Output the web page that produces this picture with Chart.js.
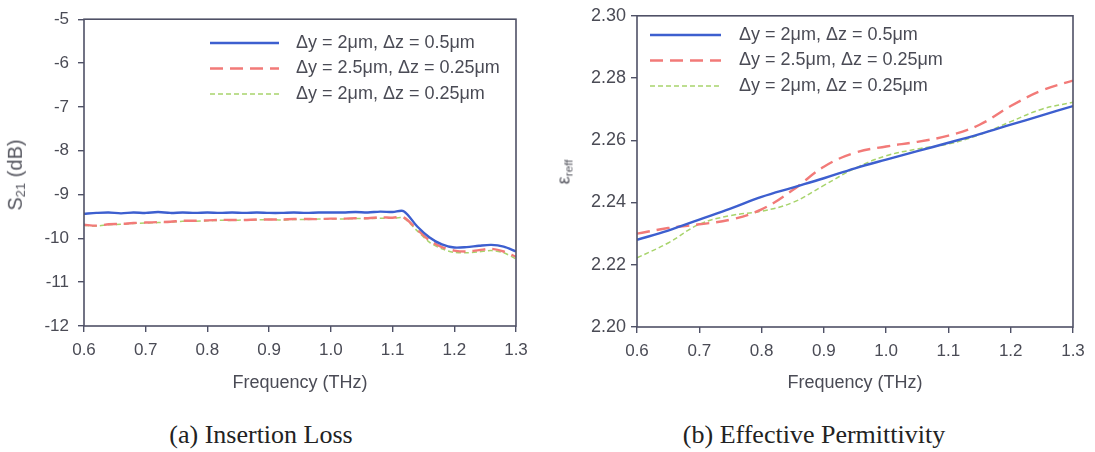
<!DOCTYPE html>
<html>
<head>
<meta charset="utf-8">
<script src="https://cdn.jsdelivr.net/npm/chart.js@4.4.1/dist/chart.umd.min.js"></script>
<style>
  html, body { margin: 0; padding: 0; background: #ffffff; }
  body { width: 1095px; height: 452px; position: relative; overflow: hidden; }
  canvas { position: absolute; top: 0; }
  .ytitle { position: absolute; font-family: "Liberation Sans", Arial, sans-serif; color: #55565f; white-space: nowrap; transform: translate(-50%, -50%) rotate(-90deg); }
  .ytitle sub { font-size: 65%; vertical-align: -0.25em; }
  .caption { position: absolute; font-family: "Liberation Serif", "Times New Roman", serif; font-size: 26px; color: #222; transform: translate(-50%, -50%); white-space: nowrap; }
</style>
</head>
<body>
<canvas id="cA" width="550" height="402" style="left:0px"></canvas>
<canvas id="cB" width="545" height="402" style="left:550px"></canvas>
<div class="ytitle" style="left:16px; top:175px; font-size:20px;">S<sub>21</sub> (dB)</div>
<div class="ytitle" style="left:564px; top:172px; font-size:18px;">&epsilon;<sub>reff</sub></div>
<div class="caption" style="left:261px; top:435px;">(a) Insertion Loss</div>
<div class="caption" style="left:814px; top:435px;">(b) Effective Permittivity</div>
<script>
// ---------- data ----------
const seriesNames = ['\u0394y = 2\u03bcm, \u0394z = 0.5\u03bcm', '\u0394y = 2.5\u03bcm, \u0394z = 0.25\u03bcm', '\u0394y = 2\u03bcm, \u0394z = 0.25\u03bcm'];
const xTickLabels = ['0.6', '0.7', '0.8', '0.9', '1.0', '1.1', '1.2', '1.3'];
const yTickLabelsA = ['-12', '-11', '-10', '-9', '-8', '-7', '-6', '-5'];
const yTickLabelsB = ['2.20', '2.22', '2.24', '2.26', '2.28', '2.30'];

const freqA = [0.60,0.62,0.64,0.66,0.68,0.70,0.72,0.74,0.76,0.78,0.80,0.82,0.84,0.86,0.88,0.90,0.92,0.94,0.96,0.98,1.00,1.02,1.04,1.06,1.08,1.10,1.118,1.14,1.16,1.18,1.20,1.22,1.24,1.26,1.28,1.30];
const s21Blue  = [-9.44,-9.42,-9.41,-9.43,-9.41,-9.42,-9.40,-9.42,-9.41,-9.42,-9.41,-9.42,-9.41,-9.42,-9.41,-9.42,-9.42,-9.41,-9.42,-9.41,-9.41,-9.41,-9.40,-9.41,-9.39,-9.40,-9.38,-9.73,-9.98,-10.14,-10.21,-10.20,-10.17,-10.15,-10.19,-10.30];
const s21Red   = [-9.69,-9.71,-9.68,-9.67,-9.65,-9.64,-9.63,-9.62,-9.60,-9.60,-9.59,-9.58,-9.58,-9.58,-9.57,-9.57,-9.57,-9.56,-9.56,-9.56,-9.55,-9.55,-9.54,-9.54,-9.52,-9.53,-9.52,-9.80,-10.05,-10.20,-10.28,-10.30,-10.27,-10.24,-10.30,-10.42];
const s21Green = [-9.70,-9.72,-9.69,-9.68,-9.66,-9.65,-9.64,-9.63,-9.61,-9.61,-9.60,-9.59,-9.59,-9.58,-9.58,-9.57,-9.58,-9.57,-9.57,-9.56,-9.56,-9.56,-9.55,-9.55,-9.54,-9.54,-9.54,-9.83,-10.09,-10.24,-10.32,-10.33,-10.31,-10.28,-10.33,-10.47];

const freqB = [0.60,0.65,0.70,0.75,0.80,0.85,0.90,0.95,1.00,1.05,1.10,1.15,1.20,1.25,1.30];
const epsBlue  = [2.2280,2.2310,2.2345,2.2380,2.2418,2.2448,2.2478,2.2510,2.2538,2.2565,2.2592,2.2620,2.2650,2.2680,2.2710];
const epsRed   = [2.2300,2.2318,2.2330,2.2345,2.2378,2.2440,2.2515,2.2560,2.2580,2.2595,2.2615,2.2650,2.2710,2.2760,2.2792];
const epsGreen = [2.2222,2.2270,2.2330,2.2358,2.2372,2.2400,2.2455,2.2510,2.2550,2.2572,2.2588,2.2618,2.2660,2.2700,2.2722];

// ---------- styles ----------
const FRAME = '#4f5166';
const TEXT = '#4a4b55';
const FONT = '"Liberation Sans", Arial, sans-serif';
const styles = [
  { borderColor: '#3d5fcf', borderWidth: 2.4, borderDash: [] },
  { borderColor: '#f27a78', borderWidth: 2.4, borderDash: [13, 7] },
  { borderColor: '#a8d46c', borderWidth: 1.5, borderDash: [5, 3] }
];

function pts(xs, ys) { return xs.map((x, i) => ({ x: x, y: ys[i] })); }

const framePlugin = {
  id: 'frame',
  afterDraw(chart) {
    const a = chart.chartArea, ctx = chart.ctx;
    ctx.save();
    ctx.strokeStyle = FRAME; ctx.lineWidth = 1.6;
    ctx.strokeRect(a.left, a.top, a.right - a.left, a.bottom - a.top);
    ctx.restore();
  }
};

const lineLegend = {
  id: 'lineLegend',
  afterDraw(chart, args, opts) {
    const ctx = chart.ctx;
    ctx.save();
    chart.data.datasets.forEach((ds, i) => {
      const y = opts.y0 + i * opts.dy;
      ctx.beginPath();
      ctx.strokeStyle = ds.borderColor;
      ctx.lineWidth = ds.borderWidth;
      ctx.setLineDash(ds.borderDash || []);
      ctx.moveTo(opts.x0, y); ctx.lineTo(opts.x1, y);
      ctx.stroke();
      ctx.setLineDash([]);
      ctx.fillStyle = TEXT;
      ctx.font = opts.fontSize + 'px ' + FONT;
      ctx.textBaseline = 'middle';
      ctx.textAlign = 'left';
      ctx.fillText(ds.label, opts.xt, y);
    });
    ctx.restore();
  }
};

function makeChart(id, xs, ys, yMin, yMax, yLabels, cfg) {
  const datasets = ys.map((arr, i) => Object.assign({
    label: seriesNames[i], data: pts(xs, arr), pointRadius: 0, fill: false,
    tension: cfg.tension
  }, styles[i]));
  return new Chart(document.getElementById(id), {
    type: 'line',
    data: { datasets },
    plugins: [framePlugin, lineLegend],
    options: {
      responsive: false, animation: false, devicePixelRatio: 1,
      layout: { padding: { left: 0, right: cfg.padRight, top: 15, bottom: 0 } },
      plugins: { legend: { display: false }, tooltip: { enabled: false }, lineLegend: cfg.legend },
      scales: {
        x: {
          type: 'linear', min: 0.6, max: 1.3,
          afterBuildTicks: s => { s.ticks = xTickLabels.map(t => ({ value: parseFloat(t) })); },
          afterFit: s => { s.height = cfg.xHeight; },
          ticks: { callback: (v, i) => xTickLabels[i], color: TEXT, font: { family: FONT, size: 17 }, padding: 8, maxRotation: 0 },
          grid: { drawOnChartArea: false, drawTicks: true, tickLength: 6, color: FRAME, lineWidth: 1.4 },
          border: { display: false },
          title: { display: true, text: 'Frequency (THz)', color: TEXT, font: { family: FONT, size: 18 }, padding: { top: 6, bottom: 8 } }
        },
        y: {
          type: 'linear', min: yMin, max: yMax,
          afterBuildTicks: s => { s.ticks = yLabels.map(t => ({ value: parseFloat(t) })); },
          afterFit: s => { s.width = cfg.yWidth; },
          ticks: { callback: (v, i) => yLabels[i], color: TEXT, font: { family: FONT, size: cfg.yFont }, padding: cfg.yPad },
          grid: { drawOnChartArea: false, drawTicks: true, tickLength: 6, color: FRAME, lineWidth: 1.4 },
          border: { display: false }
        }
      }
    }
  });
}

makeChart('cA', freqA, [s21Blue, s21Red, s21Green], -12, -5, yTickLabelsA, {
  padRight: 34, xHeight: 76, yWidth: 84, yFont: 17, yPad: 9, tension: 0.3,
  legend: { x0: 210, x1: 279, xt: 296, y0: 43, dy: 25.5, fontSize: 18 }
});
makeChart('cB', freqB, [epsBlue, epsRed, epsGreen], 2.20, 2.30, yTickLabelsB, {
  padRight: 22, xHeight: 75, yWidth: 87, yFont: 18, yPad: 5, tension: 0.4,
  legend: { x0: 100, x1: 171, xt: 189, y0: 35, dy: 25.5, fontSize: 18 }
});
</script>
</body>
</html>
